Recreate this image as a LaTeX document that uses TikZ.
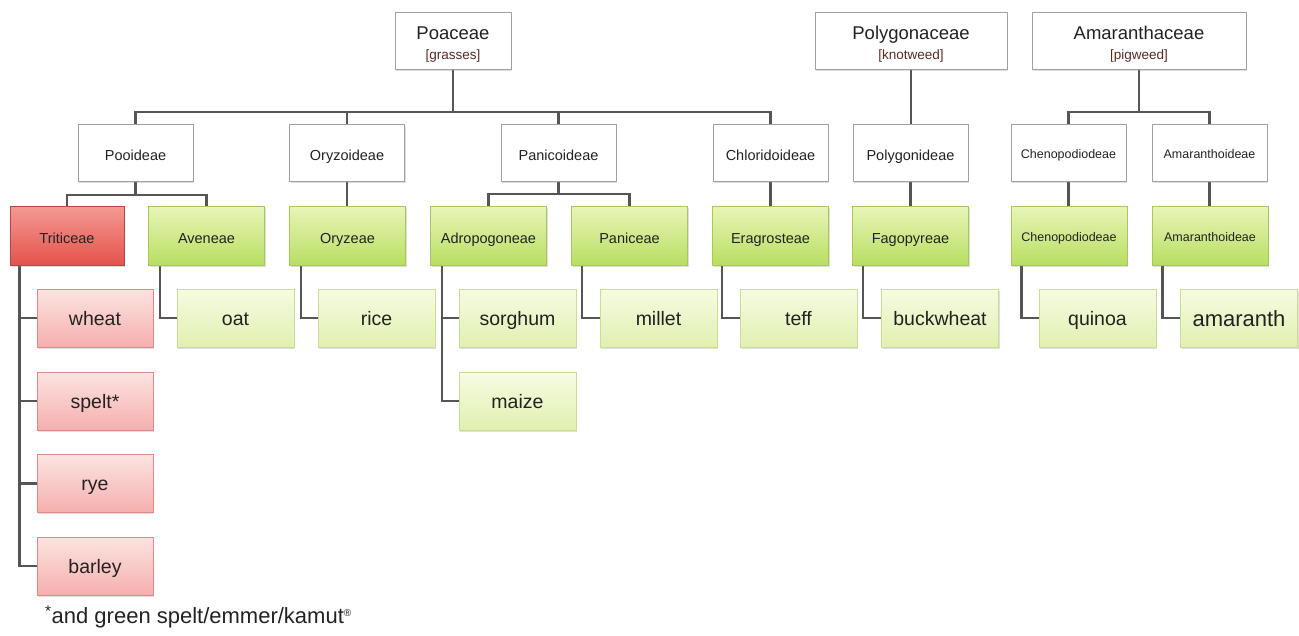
\documentclass[tikz,border=0pt]{standalone}
\usepackage{fontspec}
\setmainfont{Liberation Sans}
\usetikzlibrary{shadows,backgrounds}
\definecolor{connc}{HTML}{555555}
\definecolor{txt}{HTML}{222222}
\definecolor{brk}{HTML}{5A2A20}
\definecolor{wborder}{HTML}{A0A0A0}
\definecolor{rA}{HTML}{F49A92}
\definecolor{rB}{HTML}{E4524C}
\definecolor{rBorder}{HTML}{C24040}
\definecolor{pA}{HTML}{FCE4E2}
\definecolor{pB}{HTML}{F5AFAD}
\definecolor{pBorder}{HTML}{E08A88}
\definecolor{gA}{HTML}{E8F5B8}
\definecolor{gB}{HTML}{B9DE62}
\definecolor{gBorder}{HTML}{A5C85A}
\definecolor{lA}{HTML}{F6FBE2}
\definecolor{lB}{HTML}{E0F0B0}
\definecolor{lBorder}{HTML}{C9DE92}
\newcommand{\twolines}[2]{\raisebox{-5pt}[\height][\depth]{\begin{tabular}{@{}c@{}}#1\\{\fontsize{13.5}{14}\selectfont\color{brk}#2}\end{tabular}}}
\begin{document}
\begin{tikzpicture}[x=1pt,y=-1pt,
  box/.style={draw, rectangle, inner sep=0pt, text=txt, line width=0.8pt,
    drop shadow={opacity=0.25,shadow xshift=1.2pt,shadow yshift=-1.5pt}},
  midtext/.style={text height=15pt, text depth=0pt, font=\fontsize{14.5}{16}\selectfont},
  smalltext/.style={text height=12pt, text depth=0pt, font=\fontsize{12.5}{14}\selectfont},
  leaftext/.style={text height=14.2pt, text depth=0pt, font=\fontsize{19.5}{22}\selectfont},
  topbox/.style={box, fill=white, draw=wborder, minimum height=57pt,
    font=\fontsize{18.5}{20.5}\selectfont},
  subbox/.style={box, midtext, fill=white, draw=wborder, minimum width=115pt, minimum height=57pt},
  tribeg/.style={box, midtext, top color=gA, bottom color=gB, draw=gBorder, minimum width=116pt,
    minimum height=59pt},
  triber/.style={box, midtext, top color=rA, bottom color=rB, draw=rBorder, minimum width=114pt,
    minimum height=59pt},
  leafg/.style={box, leaftext, top color=lA, bottom color=lB, draw=lBorder, minimum width=117pt,
    minimum height=58pt},
  leafr/.style={box, leaftext, top color=pA, bottom color=pB, draw=pBorder, minimum width=116pt,
    minimum height=58pt},
  conn/.style={draw=connc, line width=2.5pt}]
\useasboundingbox (0,0) rectangle (1299,635);
% top level
\node[topbox, minimum width=116pt] (poa) at (453,40.5) {\twolines{Poaceae}{[grasses]}};
\node[topbox, minimum width=192pt] (pol) at (911,40.5) {\twolines{Polygonaceae}{[knotweed]}};
\node[topbox, minimum width=214pt] (ama) at (1139,40.5) {\twolines{Amaranthaceae}{[pigweed]}};
% subfamilies
\node[subbox] (pooi) at (135.5,152.5) {Pooideae};
\node[subbox] (oryi) at (347,152.5) {Oryzoideae};
\node[subbox] (pani) at (558.5,152.5) {Panicoideae};
\node[subbox] (chlo) at (770.5,152.5) {Chloridoideae};
\node[subbox] (polyi) at (910.5,152.5) {Polygonideae};
\node[subbox, smalltext] (cheni) at (1068.5,152.5) {Chenopodiodeae};
\node[subbox, smalltext] (amai) at (1209.5,152.5) {Amaranthoideae};
% tribes
\node[triber] (trit) at (67,235.5) {Triticeae};
\node[tribeg] (aven) at (206.5,235.5) {Aveneae};
\node[tribeg] (oryz) at (347.5,235.5) {Oryzeae};
\node[tribeg] (adro) at (488.5,235.5) {Adropogoneae};
\node[tribeg] (panic) at (629.5,235.5) {Paniceae};
\node[tribeg] (erag) at (770.5,235.5) {Eragrosteae};
\node[tribeg] (fago) at (910.5,235.5) {Fagopyreae};
\node[tribeg, smalltext] (cheng) at (1069,235.5) {Chenopodiodeae};
\node[tribeg, smalltext] (amag) at (1210,235.5) {Amaranthoideae};
% leaves
\node[leafr] (wheat) at (95,318) {wheat};
\node[leafr] (spelt) at (95,401) {spelt*};
\node[leafr] (rye) at (95,483.5) {rye};
\node[leafr] (barley) at (95,566) {barley};
\node[leafg] (oat) at (235.5,318) {oat};
\node[leafg] (rice) at (376.5,318) {rice};
\node[leafg] (sorghum) at (517.5,318) {sorghum};
\node[leafg] (maize) at (517.5,401) {maize};
\node[leafg] (millet) at (658.5,318) {millet};
\node[leafg] (teff) at (798.5,318) {teff};
\node[leafg] (buckwheat) at (940,318) {buckwheat};
\node[leafg] (quinoa) at (1097.5,318) {quinoa};
\node[leafg, text height=17pt, font=\fontsize{22}{24}\selectfont] (amaranth) at (1239,318) {amaranth};
% footnote
\node[anchor=west, inner sep=0pt, text=txt, font=\fontsize{22}{24}\selectfont] (note) at (45,617)
  {\textsuperscript{*}and green spelt/emmer/kamut\textsuperscript{\fontsize{10}{10}\selectfont ®}};
% connectors
\coordinate (poabar) at (453,112);
\coordinate (amabar) at (1139,112);
\coordinate (pooibar) at (135.5,195);
\coordinate (panibar) at (558.5,194);
\begin{scope}[on background layer]
\draw[conn] (poa.south) -- (poabar);
\draw[conn] (pooi.north) |- (poabar);
\draw[conn] (oryi.north) |- (poabar);
\draw[conn] (pani.north) |- (poabar);
\draw[conn] (chlo.north) |- (poabar);
\draw[conn] (pol.south) -- (pol.south |- polyi.north);
\draw[conn] (ama.south) -- (amabar);
\draw[conn] (cheni.north) |- (amabar);
\draw[conn] (amai.north) |- (amabar);
\draw[conn] (pooi.south) -- (pooibar);
\draw[conn] (trit.north) |- (pooibar);
\draw[conn] (aven.north) |- (pooibar);
\draw[conn] (oryi.south) -- (oryi.south |- oryz.north);
\draw[conn] (pani.south) -- (panibar);
\draw[conn] (adro.north) |- (panibar);
\draw[conn] (panic.north) |- (panibar);
\draw[conn] (chlo.south) -- (chlo.south |- erag.north);
\draw[conn] (polyi.south) -- (polyi.south |- fago.north);
\draw[conn] (cheni.south) -- (cheni.south |- cheng.north);
\draw[conn] (amai.south) -- (amai.south |- amag.north);
\draw[conn] ([xshift=10pt]trit.south west) |- (wheat.west);
\draw[conn] ([xshift=10pt]trit.south west) |- (spelt.west);
\draw[conn] ([xshift=10pt]trit.south west) |- (rye.west);
\draw[conn] ([xshift=10pt]trit.south west) |- (barley.west);
\draw[conn] ([xshift=12pt]aven.south west) |- (oat.west);
\draw[conn] ([xshift=12pt]oryz.south west) |- (rice.west);
\draw[conn] ([xshift=12pt]adro.south west) |- (sorghum.west);
\draw[conn] ([xshift=12pt]adro.south west) |- (maize.west);
\draw[conn] ([xshift=11pt]panic.south west) |- (millet.west);
\draw[conn] ([xshift=10pt]erag.south west) |- (teff.west);
\draw[conn] ([xshift=11pt]fago.south west) |- (buckwheat.west);
\draw[conn] ([xshift=11pt]cheng.south west) |- (quinoa.west);
\draw[conn] ([xshift=11pt]amag.south west) |- (amaranth.west);
\end{scope}
\end{tikzpicture}
\end{document}
